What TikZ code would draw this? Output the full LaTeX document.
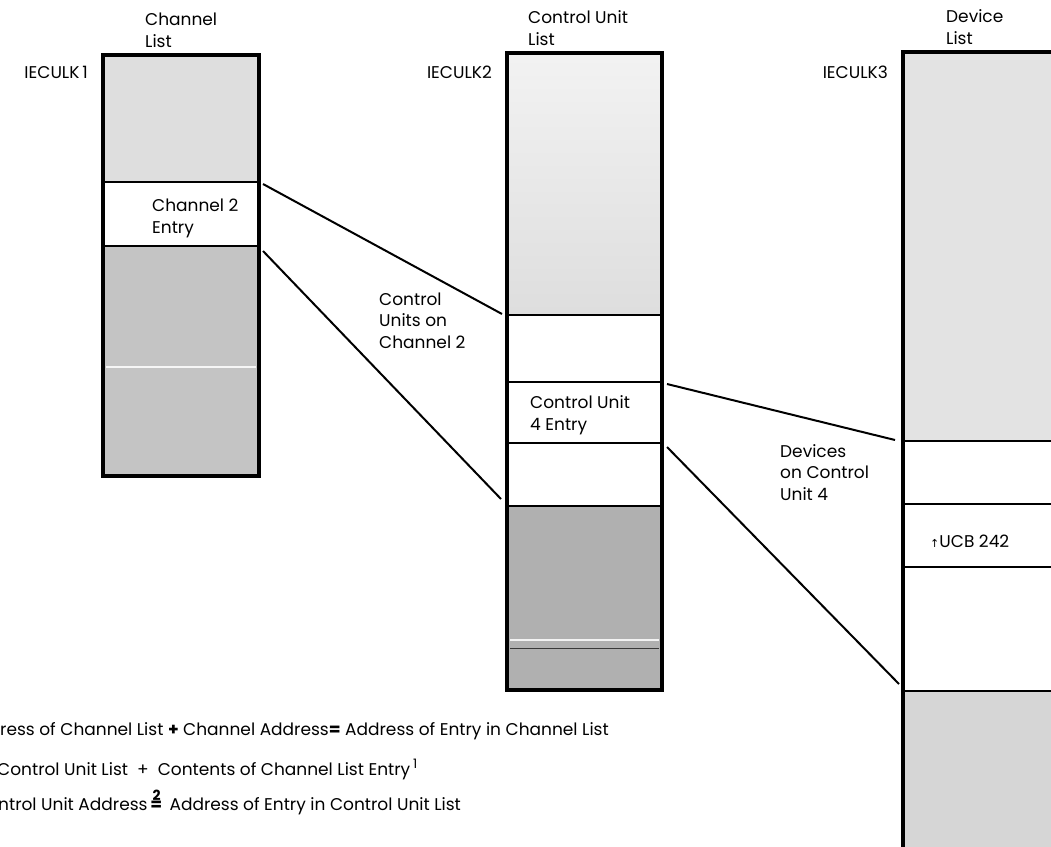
\documentclass[tikz,border=0pt]{standalone}
\usepackage{fontspec}
\setmainfont{Poppins}
\newfontfamily\symfont{DejaVu Sans}
\definecolor{palefill}{gray}{0.87}
\definecolor{midfill}{gray}{0.77}
\definecolor{deepfill}{gray}{0.69}
\begin{document}
\begin{tikzpicture}[x=1pt,y=-1pt,
  seg/.style={draw=black, line width=1.8pt, inner sep=0pt, outer sep=0pt,
              anchor=north west, fill=white},
  frame/.style={draw=black, line width=4pt},
  link/.style={draw=black, line width=2pt},
  lbl/.style={anchor=base west, inner sep=0pt, align=left,
              font=\fontsize{17}{21.5}\selectfont},
  streak/.style={draw=white, line width=1.6pt, opacity=0.85}
]
\useasboundingbox (0,0) rectangle (1051,846);
\clip (0,0) rectangle (1051,846);

% ---- channel list
\node[seg, fill=palefill, minimum width=156pt, minimum height=127pt] (ch1) at (103,55) {};
\node[seg, minimum width=156pt, minimum height=64pt] (ch2) at (103,182) {};
\node[seg, fill=midfill, minimum width=156pt, minimum height=230pt] (ch3) at (103,246) {};
\draw[streak] ([xshift=3pt]ch3.west |- 0,367) -- ([xshift=-3pt]ch3.east |- 0,367);
\draw[frame] (ch1.north west) rectangle (ch3.south east);

% ---- control unit list
\node[seg, top color=gray!10, bottom color=gray!26, minimum width=155pt, minimum height=262pt] (cu1) at (507,53) {};
\node[seg, minimum width=155pt, minimum height=67pt] (cu2) at (507,315) {};
\node[seg, minimum width=155pt, minimum height=61pt] (cu3) at (507,382) {};
\node[seg, minimum width=155pt, minimum height=63pt] (cu4) at (507,443) {};
\node[seg, fill=deepfill, minimum width=155pt, minimum height=184pt] (cu5) at (507,506) {};
\draw[streak] ([xshift=3pt]cu5.west |- 0,640) -- ([xshift=-3pt]cu5.east |- 0,640);
\draw[gray!45!black, line width=1pt] ([xshift=3pt]cu5.west |- 0,648) -- ([xshift=-3pt]cu5.east |- 0,648);
\draw[frame] (cu1.north west) rectangle (cu5.south east);

% ---- device list (runs past the right and lower edges)
\node[seg, fill=gray!22, minimum width=200pt, minimum height=389pt] (dv1) at (903,52) {};
\node[seg, minimum width=200pt, minimum height=63pt] (dv2) at (903,441) {};
\node[seg, minimum width=200pt, minimum height=63pt] (dv3) at (903,504) {};
\node[seg, minimum width=200pt, minimum height=124pt] (dv4) at (903,567) {};
\node[seg, fill=gray!32, minimum width=200pt, minimum height=209pt] (dv5) at (903,691) {};
\draw[frame] (dv1.north west) rectangle (dv5.south east);

% ---- headings and list names (base = last line)
\node[lbl] (hch) at (145,47) {Channel\\List};
\node[lbl] (hcu) at (528,45) {Control Unit\\List};
\node[lbl] (hdv) at (946,44) {Device\\List};
\node[lbl, anchor=base east] (k1) at ([xshift=-15pt]ch1.west |- 0,78) {IECULK\,1};
\node[lbl, anchor=base east] (k2) at ([xshift=-15pt]cu1.west |- 0,78) {IECULK2};
\node[lbl, anchor=base east] (k3) at ([xshift=-15pt]dv1.west |- 0,78) {IECULK3};

% ---- entries
\node[lbl] (tch) at (152,233) {Channel 2\\Entry};
\node[lbl] (tcu) at (530,430) {Control Unit\\4 Entry};
\node[lbl] (tdv) at (930,547) {{\symfont\fontsize{11}{11}\selectfont ↑}UCB 242};

% ---- connectors
\draw[link] ([xshift=4pt,yshift=-2pt]ch2.north east) -- ([xshift=-5pt,yshift=1pt]cu2.north west);
\draw[link] ([xshift=4pt,yshift=-5pt]ch3.north east) -- ([xshift=-6pt,yshift=7pt]cu5.north west);
\draw[link] ([xshift=5pt,yshift=-2pt]cu3.north east) -- ([xshift=-8pt,yshift=1pt]dv2.north west);
\draw[link] ([xshift=5pt,yshift=-4pt]cu4.north east) -- ([xshift=-4pt,yshift=7pt]dv5.north west);

\node[lbl] (grp1) at (379,348) {Control\\Units on\\Channel 2};
\node[lbl] (grp2) at (780,500) {Devices\\on Control\\Unit 4};

% ---- address formulas
\node[lbl] (eq1) at (0,735) {ress of Channel List {\bfseries +} Channel Address{\bfseries =} Address of Entry in Channel List};
\node[lbl] (eq2) at (-3,775) {Control Unit List \ + \ Contents of Channel List Entry\,\raisebox{7pt}{\fontsize{13}{13}\selectfont 1}};
\node[lbl] (eq3) at (-2,810) {ntrol Unit Address\,\rlap{\raisebox{10pt}{\fontsize{14}{14}\selectfont\bfseries\,2}}{\bfseries =}\, Address of Entry in Control Unit List};
\end{tikzpicture}
\end{document}
